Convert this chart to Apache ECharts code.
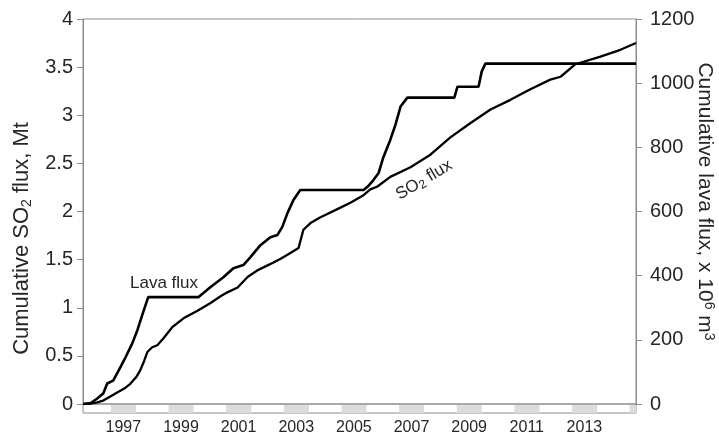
<!DOCTYPE html>
<html>
<head>
<meta charset="utf-8">
<script src="https://cdn.jsdelivr.net/npm/echarts@6/dist/echarts.min.js"></script>
<style>
  html, body { margin: 0; padding: 0; background: #ffffff; }
  #chart { width: 719px; height: 434px; }
</style>
</head>
<body>
<div id="chart"></div>
<script>
// ---- Data (decimal years) ----
// Cumulative lava flux, x 10^6 m^3 (right axis)
const lavaYears = [1996.110, 1996.357, 1996.594, 1996.802, 1996.940, 1997.147, 1997.395, 1997.572, 1997.810, 1997.987, 1998.155, 1998.363,
  2000.102, 2000.517, 2000.972, 2001.318, 2001.664, 2001.911, 2002.257, 2002.602, 2002.849, 2003.017, 2003.195, 2003.403, 2003.640,
  2005.834, 2005.972, 2006.180, 2006.358, 2006.526, 2006.763, 2006.941, 2007.119, 2007.356,
  2008.986, 2009.095, 2009.826, 2009.935, 2010.063, 2015.29];
const lavaValues = [0, 2, 17, 33, 64, 73, 114, 145, 189, 230, 277, 333,
  333, 364, 395, 423, 433, 458, 495, 520, 527, 552, 595, 636, 667,
  667, 677, 698, 720, 770, 823, 870, 927, 955,
  955, 989, 989, 1036, 1061, 1061];

// Cumulative SO2 flux, Mt (left axis)
const so2Years = [1996.110, 1996.357, 1996.594, 1996.802, 1997.049, 1997.286, 1997.533, 1997.741, 1997.948, 1998.086, 1998.225, 1998.333,
  1998.501, 1998.679, 1998.887, 1999.203, 1999.588, 2000.073, 2000.527, 2000.873, 2001.110, 2001.466, 2001.812, 2002.158, 2002.434,
  2002.711, 2002.958, 2003.195, 2003.580, 2003.650, 2003.748, 2003.995, 2004.341, 2004.687, 2005.033, 2005.379, 2005.834, 2006.071,
  2006.318, 2006.763, 2007.464, 2008.156, 2008.848, 2009.549, 2010.241, 2010.933, 2011.625, 2012.317, 2012.673, 2013.187, 2014.056,
  2014.748, 2015.29];
const so2Values = [0, 0.005, 0.016, 0.036, 0.078, 0.12, 0.16, 0.21, 0.28, 0.35, 0.45, 0.54,
  0.59, 0.61, 0.68, 0.80, 0.89, 0.97, 1.05, 1.12, 1.16, 1.21, 1.32, 1.39, 1.43,
  1.47, 1.51, 1.55, 1.62, 1.70, 1.81, 1.88, 1.94, 1.99, 2.04, 2.09, 2.17, 2.23,
  2.26, 2.36, 2.46, 2.59, 2.77, 2.92, 3.06, 3.16, 3.27, 3.37, 3.40, 3.53, 3.61,
  3.68, 3.75];

// Axis ranges / labels
const xMin = 1996.10, xMax = 2015.29;
const yearLabels = [1997, 1999, 2001, 2003, 2005, 2007, 2009, 2011, 2013];
const bandYears = [1997, 1999, 2001, 2003, 2005, 2007, 2009, 2011, 2013, 2015];

// ---- Chart ----
const FONT = '"Liberation Sans", Arial, sans-serif';
const TXT = '#262626';
const FRAME = '#8c8c8c';

const chart = echarts.init(document.getElementById('chart'), null, { renderer: 'canvas' });

const lavaData = lavaYears.map((t, i) => [t, lavaValues[i]]);
const so2Data = so2Years.map((t, i) => [t, so2Values[i]]);

chart.setOption({
  animation: false,
  backgroundColor: '#ffffff',
  textStyle: { fontFamily: FONT, color: TXT },
  grid: [
    { left: 83, right: 83, top: 19, bottom: 30, containLabel: false, outerBoundsMode: 'none',
      show: true, borderColor: FRAME, borderWidth: 1, backgroundColor: 'transparent' },
    { left: 83, right: 83, top: 404, height: 9, containLabel: false, outerBoundsMode: 'none',
      show: true, borderColor: FRAME, borderWidth: 1, backgroundColor: 'transparent' }
  ],
  xAxis: [
    { type: 'value', gridIndex: 0, min: xMin, max: xMax,
      axisLine: { show: false }, axisTick: { show: false }, axisLabel: { show: false }, splitLine: { show: false } },
    { type: 'value', gridIndex: 1, min: xMin, max: xMax,
      axisLine: { show: false }, axisTick: { show: false }, splitLine: { show: false },
      axisLabel: { show: true, customValues: yearLabels.map(y => y + 0.5), formatter: v => String(Math.floor(v)),
        fontSize: 16, color: TXT, fontFamily: FONT, margin: 7 } }
  ],
  yAxis: [
    { type: 'value', gridIndex: 0, min: 0, max: 4, interval: 0.5, position: 'left',
      axisLine: { show: true, lineStyle: { color: FRAME } },
      axisTick: { show: true, length: 6, lineStyle: { color: FRAME } },
      axisLabel: { fontSize: 20, color: TXT, fontFamily: FONT, margin: 10, formatter: v => String(v) },
      splitLine: { show: false },
      name: '{a|Cumulative SO}{s|2}{a| flux, Mt}',
      nameLocation: 'middle', nameRotate: 90, nameGap: 46,
      nameTextStyle: { fontFamily: FONT, color: TXT, fontSize: 22, padding: [0, 54, 0, 0],
        rich: { a: { fontSize: 22, lineHeight: 24, fontFamily: FONT, color: TXT },
                s: { fontSize: 14, lineHeight: 14, verticalAlign: 'bottom', fontFamily: FONT, color: TXT } } } },
    { type: 'value', gridIndex: 0, min: 0, max: 1200, interval: 200, position: 'right',
      axisLine: { show: true, lineStyle: { color: FRAME } },
      axisTick: { show: true, length: 6, lineStyle: { color: FRAME } },
      axisLabel: { fontSize: 20, color: TXT, fontFamily: FONT, margin: 14, formatter: v => String(v) },
      splitLine: { show: false },
      name: '{a|Cumulative lava flux, x 10}{p|6}{a| m}{p|3}',
      nameLocation: 'middle', nameRotate: -90, nameGap: 57, nameMoveOverlap: false,
      nameTextStyle: { fontFamily: FONT, color: TXT, fontSize: 21, padding: [0, 20, 0, 0],
        rich: { a: { fontSize: 21, lineHeight: 23, fontFamily: FONT, color: TXT },
                p: { fontSize: 14, lineHeight: 14, verticalAlign: 'top', fontFamily: FONT, color: TXT } } } },
    { type: 'value', gridIndex: 1, min: 0, max: 1, show: false }
  ],
  series: [
    { name: 'Lava flux', type: 'line', xAxisIndex: 0, yAxisIndex: 1, data: lavaData,
      showSymbol: false, symbol: 'none', lineStyle: { color: '#000000', width: 2.6 }, z: 3 },
    { name: 'SO2 flux', type: 'line', xAxisIndex: 0, yAxisIndex: 0, data: so2Data,
      showSymbol: false, symbol: 'none', lineStyle: { color: '#000000', width: 2.3 }, z: 3 },
    { name: 'bands', type: 'custom', xAxisIndex: 1, yAxisIndex: 2, data: bandYears.map(y => [y]),
      clip: true, silent: true,
      renderItem: function (params, api) {
        const y0 = api.value(0);
        const p1 = api.coord([y0 + 0.07, 1]);
        const p2 = api.coord([y0 + 0.94, 0]);
        const cs = params.coordSys;
        const shape = echarts.graphic.clipRectByRect(
          { x: p1[0], y: p1[1] + 1, width: p2[0] - p1[0], height: p2[1] - p1[1] - 1 },
          { x: cs.x, y: cs.y, width: cs.width, height: cs.height });
        return shape ? { type: 'rect', shape: shape, style: { fill: '#dcdcdc' } } : null;
      } }
  ],
  graphic: [
    { type: 'text', x: 164, y: 283,
      style: { text: 'Lava flux', fontFamily: FONT, fontSize: 17, fill: TXT, align: 'center', verticalAlign: 'middle' } },
    { type: 'text', x: 424, y: 180, rotation: 0.54,
      style: { text: '{a|SO}{s|2}{a| flux}', fontFamily: FONT, fontSize: 17, fill: TXT, align: 'center', verticalAlign: 'middle',
        rich: { a: { fontSize: 17, lineHeight: 19, fontFamily: FONT, fill: TXT },
                s: { fontSize: 12, lineHeight: 12, verticalAlign: 'bottom', fontFamily: FONT, fill: TXT } } } }
  ]
});
</script>
</body>
</html>
